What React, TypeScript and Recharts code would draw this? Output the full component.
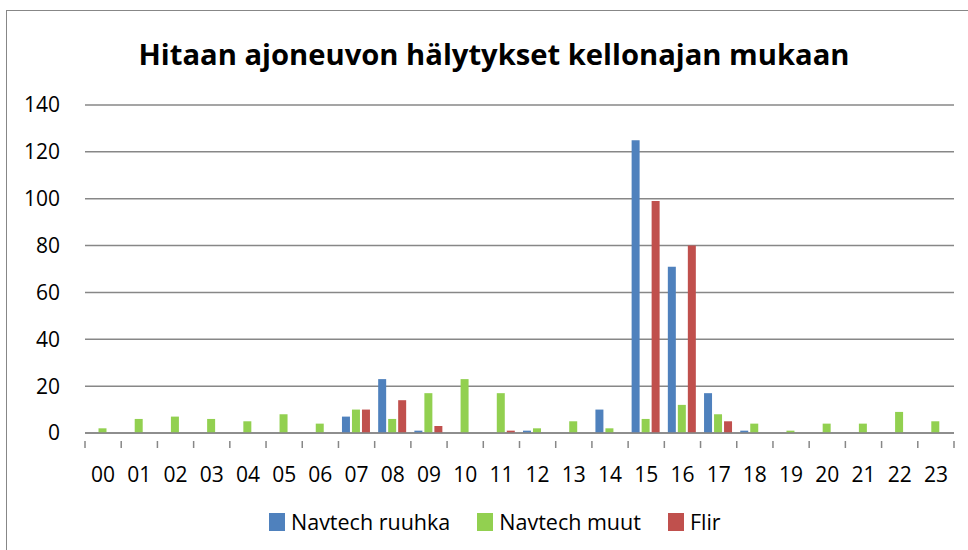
import { Bar, BarChart, CartesianGrid, XAxis, YAxis } from "recharts";

const hours = [
  "00", "01", "02", "03", "04", "05", "06", "07", "08", "09", "10", "11",
  "12", "13", "14", "15", "16", "17", "18", "19", "20", "21", "22", "23",
];
const navtechRuuhka = [0, 0, 0, 0, 0, 0, 0, 7, 23, 1, 0, 0, 1, 0, 10, 125, 71, 17, 1, 0, 0, 0, 0, 0];
const navtechMuut = [2, 6, 7, 6, 5, 8, 4, 10, 6, 17, 23, 17, 2, 5, 2, 6, 12, 8, 4, 1, 4, 4, 9, 5];
const flir = [0, 0, 0, 0, 0, 0, 0, 10, 14, 3, 0, 1, 0, 0, 0, 99, 80, 5, 0, 0, 0, 0, 0, 0];
const yTicks = [0, 20, 40, 60, 80, 100, 120, 140];

const seriesList = [
  { key: "ruuhka", name: "Navtech ruuhka", color: "#4F81BD" },
  { key: "muut", name: "Navtech muut", color: "#92D050" },
  { key: "flir", name: "Flir", color: "#C0504D" },
];

const data = hours.map((hour, i) => ({
  hour,
  ruuhka: navtechRuuhka[i],
  muut: navtechMuut[i],
  flir: flir[i],
}));

const FONT = "'Open Sans', 'Liberation Sans', sans-serif";
const GRID = "#878787";
const PLOT_LEFT = 85;
const PLOT_RIGHT = 954;
const BAND = (PLOT_RIGHT - PLOT_LEFT) / hours.length;

// Excel style: tick marks sit between categories, labels in the middle
function HourTick(props: any) {
  const { x, y, payload, index } = props;
  const left = x - BAND / 2;
  const right = x + BAND / 2;
  return (
    <g>
      <line x1={left} y1={y} x2={left} y2={y + 7} stroke={GRID} strokeWidth={1.5} />
      {index === hours.length - 1 && (
        <line x1={right} y1={y} x2={right} y2={y + 7} stroke={GRID} strokeWidth={1.5} />
      )}
      <text
        x={x}
        y={y + 33}
        textAnchor="middle"
        dominantBaseline="central"
        fontFamily={FONT}
        fontSize={21}
        fill="#000"
      >
        {payload.value}
      </text>
    </g>
  );
}

function ChartLegend() {
  return (
    <div
      style={{
        position: "absolute",
        left: 269,
        top: 507,
        display: "flex",
        alignItems: "center",
        fontFamily: FONT,
        fontSize: 21.5,
        color: "#000",
        whiteSpace: "nowrap",
      }}
    >
      {seriesList.map((s, i) => (
        <span
          key={s.key}
          style={{ display: "flex", alignItems: "center", marginLeft: i === 0 ? 0 : 27 }}
        >
          <span
            style={{ width: 16, height: 18, background: s.color, marginRight: 6, display: "inline-block" }}
          />
          {s.name}
        </span>
      ))}
    </div>
  );
}

export default function App() {
  return (
    <div
      style={{
        position: "fixed",
        left: 0,
        top: 0,
        width: 968,
        height: 550,
        overflow: "hidden",
        background: "#fff",
      }}
    >
      <div
        style={{
          position: "absolute",
          left: 6,
          top: 10,
          width: 980,
          height: 580,
          border: `1.5px solid ${GRID}`,
        }}
      />
      <div
        style={{
          position: "absolute",
          left: 0,
          top: 34,
          width: 988,
          textAlign: "center",
          fontFamily: FONT,
          fontWeight: 700,
          fontSize: 29.2,
          color: "#000",
        }}
      >
        Hitaan ajoneuvon hälytykset kellonajan mukaan
      </div>
      <div style={{ position: "absolute", left: 0, top: 0 }}>
        <BarChart
          width={968}
          height={550}
          data={data}
          margin={{ top: 105, right: 968 - PLOT_RIGHT, left: 0, bottom: 0 }}
          barCategoryGap={3.5}
          barGap={2}
        >
          <CartesianGrid horizontal vertical={false} stroke={GRID} strokeWidth={1.5} />
          <YAxis
            width={PLOT_LEFT}
            domain={[0, 140]}
            ticks={yTicks}
            axisLine={false}
            tickLine={false}
            tickSize={0}
            tickMargin={25}
            tick={{ fontFamily: FONT, fontSize: 21, fill: "#000" }}
          />
          <XAxis
            dataKey="hour"
            height={117}
            axisLine={{ stroke: GRID, strokeWidth: 1.5 }}
            tickLine={false}
            interval={0}
            tick={<HourTick />}
          />
          {seriesList.map((s) => (
            <Bar
              key={s.key}
              dataKey={s.key}
              name={s.name}
              fill={s.color}
              isAnimationActive={false}
            />
          ))}
        </BarChart>
      </div>
      <ChartLegend />
    </div>
  );
}
